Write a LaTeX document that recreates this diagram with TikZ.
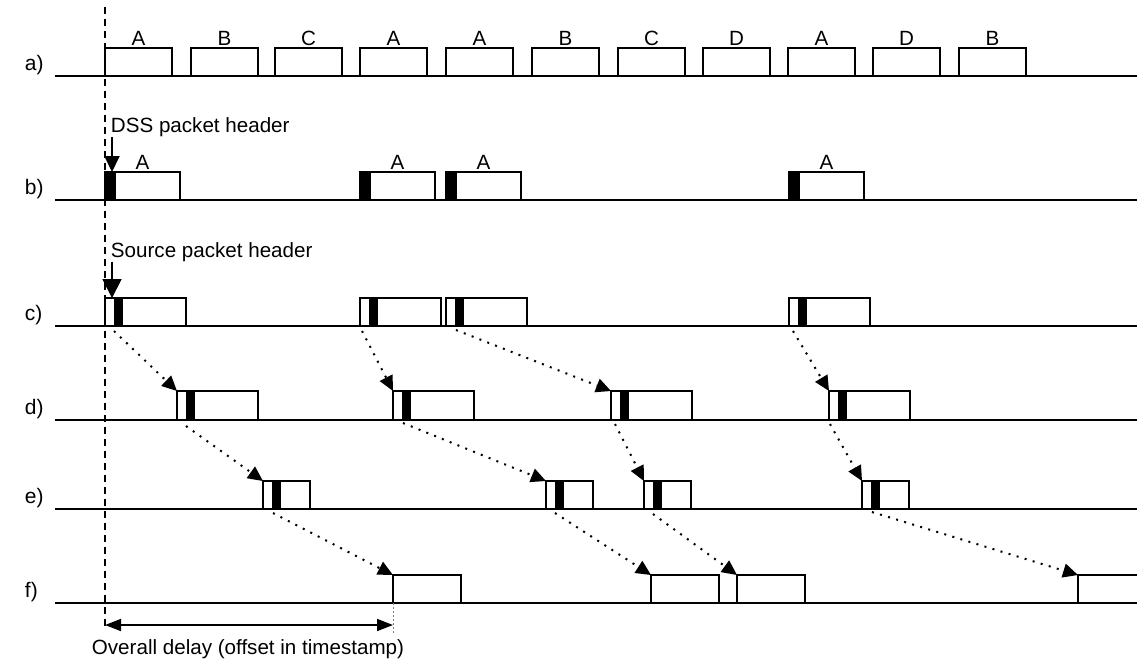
\documentclass[tikz,border=0pt]{standalone}
\usepackage{fontspec}
\setmainfont{Liberation Sans}
\usetikzlibrary{arrows.meta,calc}
\tikzset{
    every picture/.style={line width=0.95pt},
    pkt/.style={draw,rectangle,inner sep=0pt,outer sep=0pt,minimum height=14pt,anchor=south west},
    pa/.style={pkt,minimum width=33.5pt},
    pb/.style={pkt,minimum width=37.5pt},
    pc/.style={pkt,minimum width=40.5pt},
    pd/.style={pkt,minimum width=40.5pt,minimum height=14.5pt},
    pe/.style={pkt,minimum width=23.5pt},
    pf/.style={pkt,minimum width=34pt},
    tag/.style={inner sep=0.7pt,font=\fontsize{10.3}{12}\selectfont},
    rowname/.style={anchor=base west,inner sep=0pt,font=\fontsize{10.5}{12}\selectfont},
    note/.style={anchor=base west,inner sep=0pt,font=\fontsize{10.3}{12}\selectfont},
    flow/.style={-{Triangle[length=7.5pt,width=7pt]},line width=1pt,dash pattern=on 1pt off 3.2pt},
    hdr/.style={-{Triangle[length=8pt,width=7.5pt]}},
    bighdr/.style={-{Triangle[length=9.5pt,width=9.5pt]}},
    guide/.style={line width=0.75pt,dash pattern=on 3.5pt off 2.5pt},
    delay/.style={{Triangle[length=8pt,width=6pt]}-{Triangle[length=8pt,width=6pt]},line width=0.85pt},
    tick/.style={gray,line width=0.5pt,dash pattern=on 1pt off 1pt}
}
\begin{document}
\begin{tikzpicture}[x=0.5pt,y=-0.5pt]
    \useasboundingbox (0,0) rectangle (1137,661);

    % Time lines
    \node[rowname] (ra) at (24,70) {a)};
    \node[rowname] (rb) at (24,194) {b)};
    \node[rowname] (rc) at (24,320) {c)};
    \node[rowname] (rd) at (24,414) {d)};
    \node[rowname] (re) at (24,503) {e)};
    \node[rowname] (rf) at (24,597) {f)};
    \draw (55,76) -- (1137,76);
    \draw (55,200) -- (1137,200);
    \draw (55,326) -- (1137,326);
    \draw (55,420) -- (1137,420);
    \draw (55,509) -- (1137,509);
    \draw (55,603) -- (1137,603);

    % Start of the stream
    \coordinate (gtop) at (105,7);
    \coordinate (gbot) at (105,630);
    \draw[guide] (gtop) -- (gbot);

    % a) multiplexed packets
    \node[pa,label={[tag]above:A}] (a1) at (105,76) {};
    \node[pa,label={[tag]above:B}] (a2) at (191,76) {};
    \node[pa,label={[tag]above:C}] (a3) at (275,76) {};
    \node[pa,label={[tag]above:A}] (a4) at (360,76) {};
    \node[pa,label={[tag]above:A}] (a5) at (446,76) {};
    \node[pa,label={[tag]above:B}] (a6) at (532,76) {};
    \node[pa,label={[tag]above:C}] (a7) at (618,76) {};
    \node[pa,label={[tag]above:D}] (a8) at (703,76) {};
    \node[pa,label={[tag]above:A}] (a9) at (788,76) {};
    \node[pa,label={[tag]above:D}] (a10) at (873,76) {};
    \node[pa,label={[tag]above:B}] (a11) at (959,76) {};

    % b) packets of A with DSS header
    \node[pb,label={[tag]above:A}] (b1) at (105,200) {};
    \node[pb,label={[tag]above:A}] (b2) at (360,200) {};
    \node[pb,label={[tag]above:A}] (b3) at (446,200) {};
    \node[pb,label={[tag]above:A}] (b4) at (789,200) {};
    \fill (b1.south west) rectangle ++(11,-28);
    \fill (b2.south west) rectangle ++(11,-28);
    \fill (b3.south west) rectangle ++(11,-28);
    \fill (b4.south west) rectangle ++(11,-28);
    \node[note] (dss) at (110,132) {DSS packet header};
    \draw[hdr] ([xshift=1pt]dss.south west) -- ([xshift=1pt]dss.south west |- b1.north);

    % c) source packets
    \node[pc] (c1) at (105,326) {};
    \node[pc] (c2) at (360,326) {};
    \node[pc] (c3) at (446,326) {};
    \node[pc] (c4) at (789,326) {};
    \fill (c1.south west) ++(9,0) rectangle ++(9,-28);
    \fill (c2.south west) ++(9,0) rectangle ++(9,-28);
    \fill (c3.south west) ++(9,0) rectangle ++(9,-28);
    \fill (c4.south west) ++(9,0) rectangle ++(9,-28);
    \node[note] (src) at (110,257) {Source packet header};
    \draw[bighdr] ([xshift=1pt]src.south west) -- ([xshift=1pt]src.south west |- c1.north);

    % d)
    \node[pd] (d1) at (177,420) {};
    \node[pd] (d2) at (393,420) {};
    \node[pd] (d3) at (611,420) {};
    \node[pd] (d4) at (829,420) {};
    \fill (d1.south west) ++(9,0) rectangle ++(9,-29);
    \fill (d2.south west) ++(9,0) rectangle ++(9,-29);
    \fill (d3.south west) ++(9,0) rectangle ++(9,-29);
    \fill (d4.south west) ++(9,0) rectangle ++(9,-29);

    % e)
    \node[pe] (e1) at (263,509) {};
    \node[pe] (e2) at (546,509) {};
    \node[pe] (e3) at (644,509) {};
    \node[pe] (e4) at (862,509) {};
    \fill (e1.south west) ++(9,0) rectangle ++(9,-28);
    \fill (e2.south west) ++(9,0) rectangle ++(9,-28);
    \fill (e3.south west) ++(9,0) rectangle ++(9,-28);
    \fill (e4.south west) ++(9,0) rectangle ++(9,-28);

    % f)
    \node[pf] (f1) at (393,603) {};
    \node[pf] (f2) at (651,603) {};
    \node[pf] (f3) at (737,603) {};
    \node[pf] (f4) at (1078,603) {};

    % Delays
    \draw[flow] ([xshift=4.5pt,yshift=-2.5pt]c1.south west) -- (d1.north west);
    \draw[flow] ([xshift=1pt,yshift=-2.5pt]c2.south west) -- (d2.north west);
    \draw[flow] ([xshift=5pt,yshift=-2pt]c3.south west) -- (d3.north west);
    \draw[flow] ([xshift=2pt,yshift=-2.5pt]c4.south west) -- (d4.north west);
    \draw[flow] ([xshift=4.5pt,yshift=-3pt]d1.south west) -- (e1.north west);
    \draw[flow] ([xshift=5pt,yshift=-1.5pt]d2.south west) -- (e2.north west);
    \draw[flow] ([xshift=2pt,yshift=-2pt]d3.south west) -- (e3.north west);
    \draw[flow] ([xshift=0.5pt,yshift=-2pt]d4.south west) -- (e4.north west);
    \draw[flow] ([xshift=5pt,yshift=-2pt]e1.south west) -- (f1.north west);
    \draw[flow] ([xshift=4.5pt,yshift=-2pt]e2.south west) -- (f2.north west);
    \draw[flow] ([xshift=4.5pt,yshift=-2.5pt]e3.south west) -- (f3.north west);
    \draw[flow] ([xshift=5pt,yshift=-1.5pt]e4.south west) -- (f4.north west);

    % Overall delay
    \coordinate (dl) at (105,625);
    \draw[delay] (dl) -- (dl -| f1.south west);
    \draw[tick] (f1.south west) -- ++(0,30);
    \node[anchor=base,inner sep=0pt,font=\fontsize{10.3}{12}\selectfont] (dtxt) at (248,654) {Overall delay (offset in timestamp)};
\end{tikzpicture}
\end{document}
